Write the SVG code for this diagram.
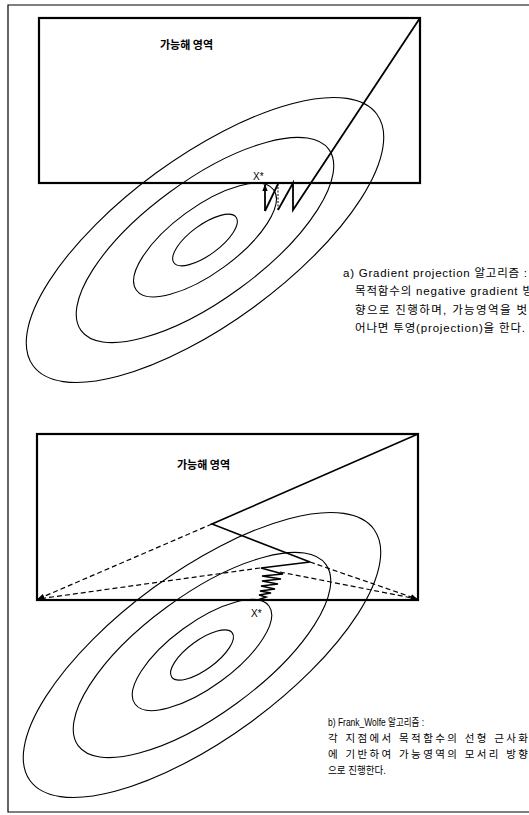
<svg xmlns="http://www.w3.org/2000/svg" width="529" height="815" viewBox="0 0 529 815">
<style>
.frame{fill:none;stroke:#000;stroke-width:1.2}
.rect{fill:none;stroke:#000;stroke-width:2.2}
.ell{fill:none;stroke:#000;stroke-width:1.1}
.path{fill:none;stroke:#000;stroke-width:1.8;stroke-linejoin:miter}
.dash{fill:none;stroke:#000;stroke-width:1.2;stroke-dasharray:5,3}
.t{font-family:"Liberation Sans","Noto Sans CJK KR",sans-serif;font-size:11.5px;fill:#000}
.tb{font-family:"Liberation Sans","Noto Sans CJK KR",sans-serif;font-size:10.5px;fill:#000}
.b{font-family:"Noto Sans CJK KR","Liberation Sans",sans-serif;font-size:11px;font-weight:bold;fill:#000}
.x{font-family:"Liberation Sans",sans-serif;font-size:10px;fill:#000}
</style>
<defs>
<marker id="ah" viewBox="0 0 10 10" refX="9" refY="5" markerWidth="7" markerHeight="7" orient="auto" markerUnits="userSpaceOnUse">
<path d="M0,1 L10,5 L0,9 Z" fill="#000"/>
</marker>
</defs>
<g id="frame">
<polyline class="frame" points="529,5 8,5 8,812 529,812"/>
</g>
<g id="panel-a">
<g id="feasible-a">
<rect class="rect" x="39" y="18" width="381" height="165"/>
<text class="b" x="160" y="49">가능해 영역</text>
</g>
<g id="contours-a" transform="rotate(-36.2 205 240)">
<ellipse class="ell" cx="205" cy="240" rx="213" ry="83"/>
<ellipse class="ell" cx="205" cy="240" rx="153.5" ry="59.5"/>
<ellipse class="ell" cx="205" cy="240" rx="85" ry="33"/>
<ellipse class="ell" cx="205" cy="240" rx="38.5" ry="15"/>
</g>
<text class="x" x="253" y="180">X*</text>
<g id="connectors-a">
<polyline class="path" points="420,18 293,210 293,183 278,210"/>
<line class="dash" x1="278" y1="210" x2="278" y2="184" style="stroke-dasharray:2,1.5;stroke-width:1"/>
<line class="path" x1="278" y1="184" x2="265" y2="211"/>
<line class="path" x1="265" y1="211" x2="265" y2="185" marker-end="url(#ah)"/>
</g>
<g id="caption-a">
<text class="t" x="343" y="277" textLength="184" lengthAdjust="spacing">a) Gradient projection 알고리즘 :</text>
<text class="t" x="355" y="295" textLength="178" lengthAdjust="spacing">목적함수의 negative gradient 방</text>
<text class="t" x="355" y="314" textLength="172" lengthAdjust="spacing">향으로 진행하며, 가능영역을 벗</text>
<text class="t" x="355" y="332" textLength="170" lengthAdjust="spacing">어나면 투영(projection)을 한다.</text>
</g>
</g>
<g id="panel-b">
<g id="feasible-b">
<rect class="rect" x="37" y="434" width="381" height="166"/>
<text class="b" x="177" y="469">가능해 영역</text>
</g>
<g id="contours-b" transform="rotate(-36.2 202 655)">
<ellipse class="ell" cx="202" cy="655" rx="213" ry="83"/>
<ellipse class="ell" cx="202" cy="655" rx="153.5" ry="59.5"/>
<ellipse class="ell" cx="202" cy="655" rx="83" ry="32.3"/>
<ellipse class="ell" cx="202" cy="655" rx="37.5" ry="14.5"/>
</g>
<text class="x" x="251" y="617">X*</text>
<g id="connectors-b">
<line class="dash" x1="212" y1="524" x2="38" y2="599" marker-end="url(#ah)"/>
<line class="dash" x1="260" y1="568" x2="38" y2="599" marker-end="url(#ah)"/>
<line class="dash" x1="310" y1="562" x2="417" y2="599" marker-end="url(#ah)"/>
<line class="dash" x1="280" y1="572" x2="417" y2="599" marker-end="url(#ah)"/>
<polyline class="path" points="418,434 212,524 310,562 261,568 283,574 262,576 281,579 262,581 278,584 261,586 275,589 260,591 271,593 259,595 266,597 258,600" style="stroke-width:1.6"/>
</g>
<g id="caption-b">
<text class="tb" x="328" y="726" textLength="96" lengthAdjust="spacingAndGlyphs">b) Frank_Wolfe 알고리즘 :</text>
<text class="tb" x="328" y="742" textLength="200" lengthAdjust="spacing">각 지점에서 목적함수의 선형 근사화</text>
<text class="tb" x="328" y="758" textLength="200" lengthAdjust="spacing">에 기반하여 가능영역의 모서리 방향</text>
<text class="tb" x="328" y="774" textLength="58" lengthAdjust="spacingAndGlyphs">으로 진행한다.</text>
</g>
</g>
</svg>
